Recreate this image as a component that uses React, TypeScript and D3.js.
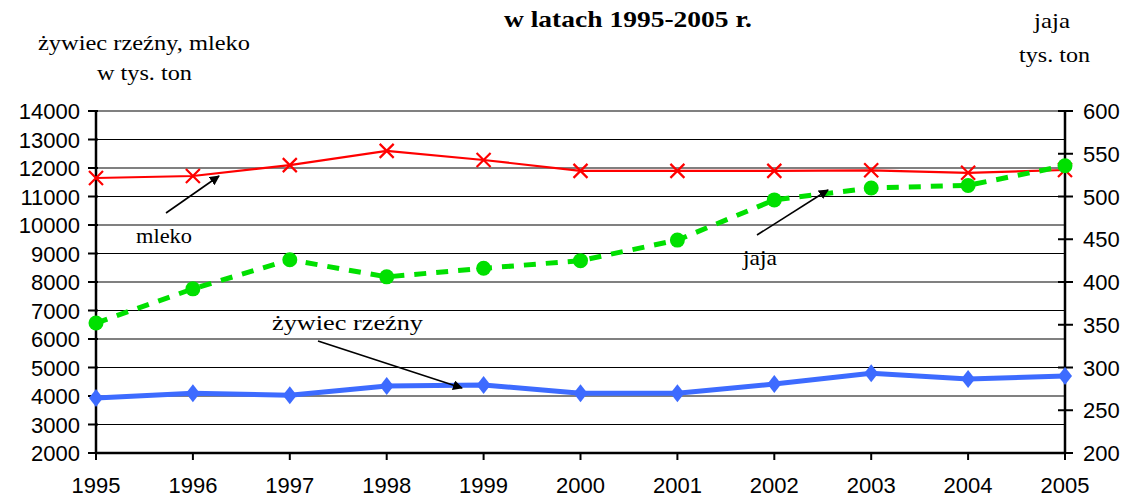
import React from 'react';
import * as d3 from 'd3';

const years = [1995, 1996, 1997, 1998, 1999, 2000, 2001, 2002, 2003, 2004, 2005];
const mleko = [11650, 11720, 12100, 12600, 12280, 11900, 11900, 11900, 11920, 11830, 11930];
const zywiec = [3930, 4100, 4030, 4350, 4390, 4100, 4100, 4420, 4800, 4600, 4700];
const jaja = [352, 392, 426, 406, 416, 425, 449, 496, 510, 513, 536];
const leftTicks = d3.range(2000, 14001, 1000);
const rightTicks = d3.range(200, 601, 50);

const W = 1127;
const H = 498;
const x = d3.scaleLinear().domain([1995, 2005]).range([96, 1065]);
const yL = d3.scaleLinear().domain([2000, 14000]).range([453, 111]);
const yR = d3.scaleLinear().domain([200, 600]).range([453, 111]);

const serif = '"Liberation Serif", "Times New Roman", serif';
const sans = '"Liberation Sans", Arial, sans-serif';

const Arrow = ({ x1, y1, x2, y2 }: { x1: number; y1: number; x2: number; y2: number }) => (
  <line x1={x1} y1={y1} x2={x2} y2={y2} stroke="#000" strokeWidth={1.6} markerEnd="url(#ah)" />
);

// serif label stretched to the width seen in the picture
const Label = ({ x0, x1, y, size = 22, bold = false, children }: any) => (
  <text x={x0} y={y} fontFamily={serif} fontSize={size} fontWeight={bold ? 'bold' : 'normal'}
    textLength={x1 - x0} lengthAdjust="spacingAndGlyphs">
    {children}
  </text>
);

export default function App() {
  const lineL = (vals: number[]) =>
    d3.line<number>().x((_, i) => x(years[i])).y((d) => yL(d))(vals) as string;
  const lineR = d3.line<number>().x((_, i) => x(years[i])).y((d) => yR(d))(jaja) as string;

  return (
    <svg width={W} height={H} style={{ position: 'absolute', left: 0, top: 0 }}>
      <defs>
        <marker id="ah" viewBox="0 0 10 10" refX="9" refY="5" markerWidth="10" markerHeight="10"
          markerUnits="userSpaceOnUse" orient="auto">
          <path d="M0,0 L10,5 L0,10 z" fill="#000" />
        </marker>
      </defs>
      <rect width={W} height={H} fill="#fff" />

      {/* titles */}
      <Label x0={504} x1={752} y={27} size={23} bold>w latach 1995-2005 r.</Label>
      <Label x0={38} x1={250} y={50}>żywiec rzeźny, mleko</Label>
      <Label x0={97} x1={192} y={80}>w tys. ton</Label>
      <Label x0={1034} x1={1070} y={28}>jaja</Label>
      <Label x0={1019} x1={1090} y={62}>tys. ton</Label>

      {/* gridlines */}
      {leftTicks.map((t, i) => (
        <line key={t} x1={96} x2={1065} y1={yL(t)} y2={yL(t)}
          stroke={i % 2 === 0 ? '#808080' : '#000'} strokeWidth={i % 2 === 0 ? 2 : 1} />
      ))}

      {/* axes */}
      <line x1={96} x2={96} y1={111} y2={453} stroke="#000" strokeWidth={2.5} />
      <line x1={1065} x2={1065} y1={111} y2={453} stroke="#000" strokeWidth={2.5} />
      <line x1={96} x2={1065} y1={453} y2={453} stroke="#000" strokeWidth={2.5} />
      {leftTicks.map((t) => (
        <g key={t}>
          <line x1={88} x2={98} y1={yL(t)} y2={yL(t)} stroke="#000" strokeWidth={2} />
          <text x={80} y={yL(t) + 8} textAnchor="end" fontFamily={sans} fontSize={22}>{t}</text>
        </g>
      ))}
      {rightTicks.map((t) => (
        <g key={t}>
          <line x1={1058} x2={1073} y1={yR(t)} y2={yR(t)} stroke="#000" strokeWidth={2} />
          <text x={1083} y={yR(t) + 8} fontFamily={sans} fontSize={22}>{t}</text>
        </g>
      ))}
      {years.map((yr) => (
        <g key={yr}>
          <line x1={x(yr)} x2={x(yr)} y1={453} y2={460} stroke="#000" strokeWidth={2} />
          <text x={x(yr)} y={493} textAnchor="middle" fontFamily={sans} fontSize={22}>{yr}</text>
        </g>
      ))}

      {/* żywiec rzeźny */}
      <path d={lineL(zywiec)} fill="none" stroke="#3d6bff" strokeWidth={5} />
      {zywiec.map((v, i) => {
        const cx = x(years[i]);
        const cy = yL(v);
        return <path key={i} d={`M${cx},${cy - 9} L${cx + 7},${cy} L${cx},${cy + 9} L${cx - 7},${cy} z`} fill="#3d6bff" />;
      })}

      {/* mleko */}
      <path d={lineL(mleko)} fill="none" stroke="#ff0000" strokeWidth={2.2} />
      {mleko.map((v, i) => {
        const cx = x(years[i]);
        const cy = yL(v);
        return (
          <path key={i} d={`M${cx - 7},${cy - 7} L${cx + 7},${cy + 7} M${cx - 7},${cy + 7} L${cx + 7},${cy - 7}`}
            stroke="#ff0000" strokeWidth={2.2} />
        );
      })}

      {/* jaja */}
      <path d={lineR} fill="none" stroke="#00e000" strokeWidth={5} strokeDasharray="12 10" />
      {jaja.map((v, i) => (
        <circle key={i} cx={x(years[i])} cy={yR(v)} r={7.5} fill="#00e000" />
      ))}

      {/* annotations */}
      <Arrow x1={166} y1={213} x2={219} y2={176} />
      <Label x0={136} x1={192} y={243}>mleko</Label>
      <Arrow x1={757} y1={235} x2={828} y2={190} />
      <Label x0={743} x1={777} y={265}>jaja</Label>
      <Arrow x1={318} y1={341} x2={462} y2={388} />
      <Label x0={272} x1={423} y={330}>żywiec rzeźny</Label>
    </svg>
  );
}
